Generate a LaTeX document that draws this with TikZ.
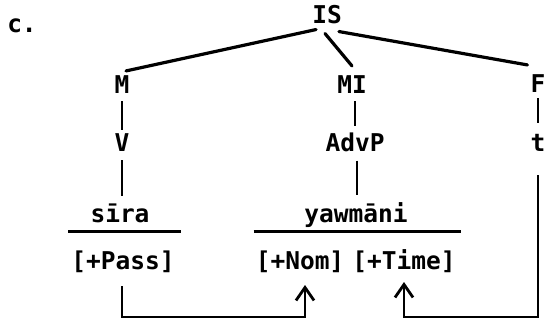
\documentclass[tikz,border=0pt]{standalone}
\usepackage{fontspec}
\newfontfamily\tw{DejaVu Sans Mono}
\usetikzlibrary{calc,arrows.meta}
\begin{document}
\begin{tikzpicture}[x=1pt,y=-1pt,
  lab/.style={font=\tw\bfseries\fontsize{24.5}{28}\selectfont, inner xsep=0pt, inner ysep=4pt, anchor=base},
  branch/.style={line width=3.2pt, line cap=round},
  stem/.style={line width=2.8pt},
  rulebar/.style={line width=3pt},
  flow/.style={line width=2.8pt, -{Straight Barb[length=13pt,width=18pt,line width=2.8pt]}}]
\useasboundingbox (0,0) rectangle (545,323);
\node[lab] (c) at (22,33) {c.};
\node[lab] (IS) at (327,24) {IS};
\node[lab] (M) at (122,94) {M};
\node[lab] (MI) at (352,94) {MI};
\node[lab] (F) at (538,93) {F};
\node[lab] (V) at (122,152) {V};
\node[lab] (AdvP) at (355,152) {AdvP};
\node[lab] (t) at (538,152) {t};
\node[lab] (sira) at (120,222) {sīra};
\node[lab] (yawmani) at (356,222) {yawmāni};
\node[lab] (Pass) at (123,269) {[+Pass]};
\node[lab] (Nom) at (300,269) {[+Nom]};
\node[lab] (Time) at (404,269) {[+Time]};
\coordinate (ul) at (0,231);
\coordinate (bot) at (0,317);
\coordinate (tip1) at ($(Nom.base)+(5,16)$);
\coordinate (tip2) at ($(Time.base)+(0,13)$);
% tree branches
\draw[branch] ($(IS.south west)+(4,1)$) -- ($(M.north)+(4,-1)$);
\draw[branch] ($(IS.south)+(-2,5)$) -- ($(MI.north)+(0,-6)$);
\draw[branch] ($(IS.south east)+(-3,3)$) -- ($(F.north west)+(-3,-6)$);
\draw[stem] ($(M.south)+(0,3)$) -- (V.north);
\draw[stem] ($(MI.south)+(3,3)$) -- ($(AdvP.north)+(0,-3)$);
\draw[stem] ($(F.south)+(0,1)$) -- ($(t.north)+(0,-8)$);
\draw[stem] ($(V.south)+(0,4)$) -- ($(V.south |- sira.north)+(0,-3)$);
\draw[stem] ($(AdvP.south)+(2,4)$) -- ($(AdvP.south |- yawmani.north)+(2,-3)$);
% underlines
\draw[rulebar] ($(Pass.west |- ul)+(-3,0)$) -- ($(Pass.east |- ul)+(6,0)$);
\draw[rulebar] ($(Nom.west |- ul)+(-2,0)$) -- ($(Time.east |- ul)+(5,0)$);
% arrows
\draw[flow] ($(Pass.base)+(-1,17)$) |- (tip1 |- bot) -- (tip1);
\draw[flow] ($(t.south)+(0,19)$) |- (tip2 |- bot) -- (tip2);
\end{tikzpicture}
\end{document}
